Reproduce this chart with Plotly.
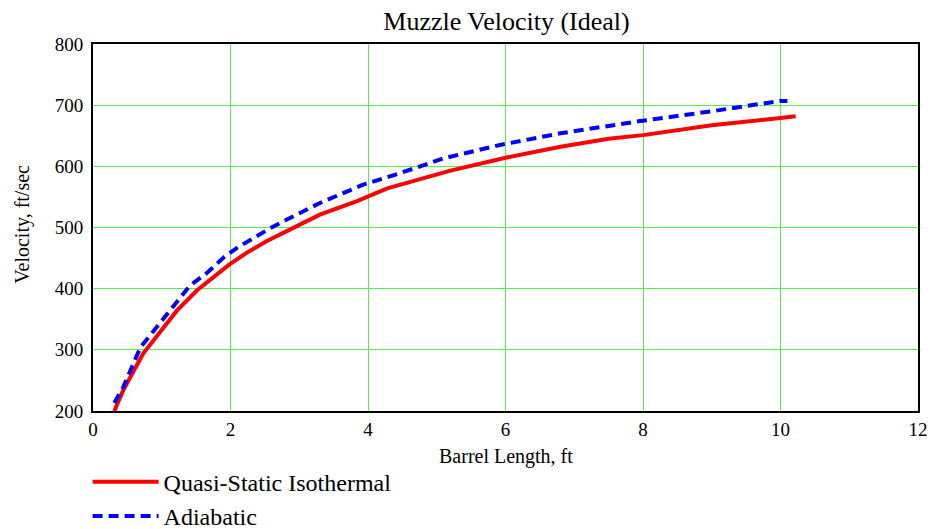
import plotly.graph_objects as go

# Barrel length (ft) and muzzle velocity (ft/sec)
iso_x = [0.31, 0.44, 0.73, 0.93, 1.22, 1.51, 1.75, 1.99, 2.24, 2.53, 2.87, 3.30, 3.84, 4.28,
         5.2, 6.0, 6.8, 7.5, 8.0, 9.0, 10.0, 10.22]
iso_v = [200, 234, 294, 323, 364, 397, 418, 440, 459, 478, 497, 521, 543, 564,
         593, 614, 632, 645, 651, 667, 679, 682]

adi_x = [0.31, 0.44, 0.69, 0.81, 1.03, 1.22, 1.41, 1.66, 1.90, 2.1, 2.34, 2.58, 2.82, 3.06,
         3.30, 3.93, 4.47, 5.1, 5.92, 6.8, 7.5, 7.96, 9.0, 10.0, 10.1]
adi_v = [213, 239, 304, 321, 353, 380, 405, 426, 451, 467, 483, 499, 513, 527,
         540, 570, 589, 613, 635, 654, 667, 674, 690, 707, 707]

x_ticks = [0, 2, 4, 6, 8, 10, 12]
y_ticks = [200, 300, 400, 500, 600, 700, 800]

FONT = "Liberation Serif, Times New Roman, serif"
GRID = "#55ee55"

fig = go.Figure()
fig.add_trace(go.Scatter(x=iso_x, y=iso_v, mode="lines", name="Quasi-Static Isothermal",
                         line=dict(color="#ff0000", width=4)))
fig.add_trace(go.Scatter(x=adi_x, y=adi_v, mode="lines", name="Adiabatic",
                         line=dict(color="#0000ff", width=4, dash="10px,6px")))

fig.update_layout(
    width=932, height=529,
    margin=dict(l=93, r=14, t=44, b=118, autoexpand=False),
    paper_bgcolor="white", plot_bgcolor="white",
    font=dict(family=FONT, color="black", size=19),
    title=dict(text="Muzzle Velocity (Ideal)", x=0.5435, xanchor="center",
               yref="container", y=0.961, yanchor="middle", font=dict(size=26, family=FONT)),
    showlegend=True,
    legend=dict(xref="container", yref="container", x=0.094, xanchor="left",
                y=0.131, yanchor="top",
                font=dict(size=24, family=FONT), bgcolor="rgba(0,0,0,0)",
                tracegroupgap=0, itemwidth=66),
    xaxis=dict(range=[0, 12], tickvals=x_ticks, ticktext=[str(t) for t in x_ticks],
               showgrid=True, gridcolor=GRID, gridwidth=1, zeroline=False,
               showline=True, linecolor="black", linewidth=2, mirror=True,
               ticks="", tickfont=dict(size=19, family=FONT), automargin=False),
    yaxis=dict(range=[200, 800], tickvals=y_ticks, ticktext=[str(t) for t in y_ticks],
               showgrid=True, gridcolor=GRID, gridwidth=1, zeroline=False,
               showline=True, linecolor="black", linewidth=2, mirror=True,
               ticks="", tickfont=dict(size=19, family=FONT), automargin=False,
               ticklabelstandoff=4),
    annotations=[
        dict(text="Barrel Length, ft", xref="paper", yref="paper", x=0.5, y=-0.125,
             xanchor="center", yanchor="middle", showarrow=False,
             font=dict(size=20, family=FONT)),
        dict(text="Velocity, ft/sec", xref="paper", yref="paper", x=-0.085, y=0.51,
             xanchor="center", yanchor="middle", showarrow=False, textangle=-90,
             font=dict(size=20, family=FONT)),
    ],
)

fig.write_html("out.html", config={"displayModeBar": False},
               post_script="document.body.style.margin='0px';")
